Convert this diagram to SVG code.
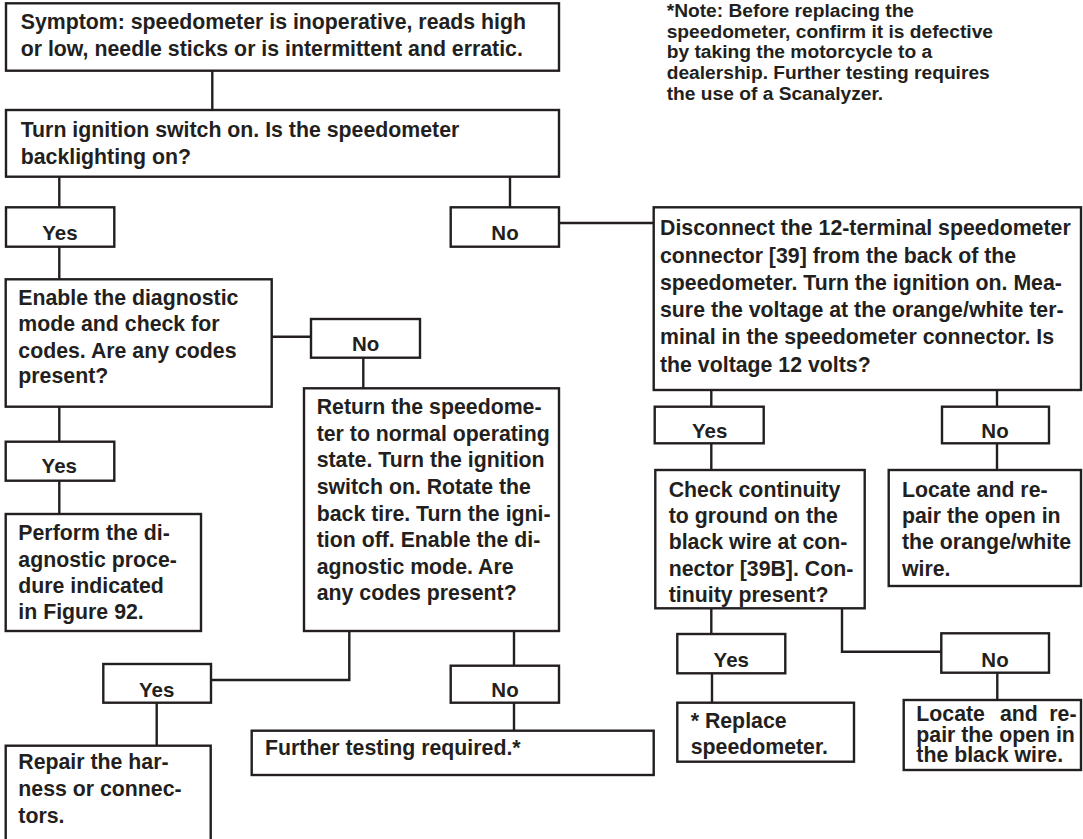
<svg xmlns="http://www.w3.org/2000/svg" width="1083" height="839" viewBox="0 0 1083 839">
<style>
.box{fill:#fff;stroke:#231f20;stroke-width:2.4}
.conn{fill:none;stroke:#231f20;stroke-width:2.4}
.t{font-family:"Liberation Sans",Arial,Helvetica,sans-serif;font-weight:bold;font-size:21.3px;fill:#231f20}
.lbl{font-family:"Liberation Sans",Arial,Helvetica,sans-serif;font-weight:bold;font-size:20.5px;fill:#231f20;text-anchor:middle}
.note{font-family:"Liberation Sans",Arial,Helvetica,sans-serif;font-weight:bold;font-size:19.2px;fill:#231f20}
</style>
<rect x="0" y="0" width="1083" height="839" fill="#fff"/>
<g id="connectors">
<path class="conn" d="M212.3,70.7V110"/>
<path class="conn" d="M59.3,176.7V207.3"/>
<path class="conn" d="M510,176.7V207.3"/>
<path class="conn" d="M559,223H653.7"/>
<path class="conn" d="M59.3,246.7V279.3"/>
<path class="conn" d="M271.7,336.7H311"/>
<path class="conn" d="M363.3,357.7V388.3"/>
<path class="conn" d="M59.3,406.7V441.7"/>
<path class="conn" d="M59.3,480.7V514"/>
<path class="conn" d="M349.3,631V680H211"/>
<path class="conn" d="M156.7,702.7V745.7"/>
<path class="conn" d="M514,631V665.7"/>
<path class="conn" d="M514,702.7V730.7"/>
<path class="conn" d="M711.3,390V406.7"/>
<path class="conn" d="M997,390V406.7"/>
<path class="conn" d="M711.3,443.3V470"/>
<path class="conn" d="M997,443.3V470"/>
<path class="conn" d="M711.3,608.3V634"/>
<path class="conn" d="M842,608.3V651.7H941.3"/>
<path class="conn" d="M712,673.3V702.7"/>
<path class="conn" d="M997.3,672.7V700"/>
</g>
<g id="symptom">
<rect class="box" x="6" y="3.3" width="553" height="67.4"/>
<text class="t" x="20.7" y="29">Symptom: speedometer is inoperative, reads high</text>
<text class="t" x="20.7" y="56">or low, needle sticks or is intermittent and erratic.</text>
</g>
<g id="note">
<text class="note" x="666.7" y="16.7">*Note: Before replacing the</text>
<text class="note" x="666.7" y="37.7">speedometer, confirm it is defective</text>
<text class="note" x="666.7" y="58.3">by taking the motorcycle to a</text>
<text class="note" x="666.7" y="79.3">dealership. Further testing requires</text>
<text class="note" x="666.7" y="100">the use of a Scanalyzer.</text>
</g>
<g id="ignition">
<rect class="box" x="6" y="110" width="553" height="66.7"/>
<text class="t" x="20.7" y="137">Turn ignition switch on. Is the speedometer</text>
<text class="t" x="20.7" y="164">backlighting on?</text>
</g>
<g id="yes1">
<rect class="box" x="6" y="207.3" width="108.3" height="39.4"/>
<text class="lbl" x="60" y="240">Yes</text>
</g>
<g id="no1">
<rect class="box" x="450.7" y="207.3" width="108.3" height="39.4"/>
<text class="lbl" x="505" y="240">No</text>
</g>
<g id="disconnect">
<rect class="box" x="653.7" y="207.3" width="427.3" height="182.7"/>
<text class="t" x="660" y="235">Disconnect the 12-terminal speedometer</text>
<text class="t" x="660" y="262.7">connector [39] from the back of the</text>
<text class="t" x="660" y="290">speedometer. Turn the ignition on. Mea-</text>
<text class="t" x="660" y="316.7">sure the voltage at the orange/white ter-</text>
<text class="t" x="660" y="344">minal in the speedometer connector. Is</text>
<text class="t" x="660" y="371.7">the voltage 12 volts?</text>
</g>
<g id="enable">
<rect class="box" x="5.7" y="279.3" width="266" height="127.4"/>
<text class="t" x="18.3" y="305">Enable the diagnostic</text>
<text class="t" x="18.3" y="331">mode and check for</text>
<text class="t" x="18.3" y="357.7">codes. Are any codes</text>
<text class="t" x="18.3" y="383.3">present?</text>
</g>
<g id="no2">
<rect class="box" x="311" y="319" width="109" height="38.7"/>
<text class="lbl" x="365.7" y="350.7">No</text>
</g>
<g id="return">
<rect class="box" x="304" y="388.3" width="255" height="242.7"/>
<text class="t" x="316.7" y="414">Return the speedome-</text>
<text class="t" x="316.7" y="440.7">ter to normal operating</text>
<text class="t" x="316.7" y="467.3">state. Turn the ignition</text>
<text class="t" x="316.7" y="494">switch on. Rotate the</text>
<text class="t" x="316.7" y="520.7">back tire. Turn the igni-</text>
<text class="t" x="316.7" y="547.3">tion off. Enable the di-</text>
<text class="t" x="316.7" y="574">agnostic mode. Are</text>
<text class="t" x="316.7" y="600">any codes present?</text>
</g>
<g id="yes3">
<rect class="box" x="5.7" y="441.7" width="108.6" height="39"/>
<text class="lbl" x="59.3" y="473.3">Yes</text>
</g>
<g id="perform">
<rect class="box" x="5.7" y="514" width="195.3" height="117"/>
<text class="t" x="18.3" y="540">Perform the di-</text>
<text class="t" x="18.3" y="566.7">agnostic proce-</text>
<text class="t" x="18.3" y="593.3">dure indicated</text>
<text class="t" x="18.3" y="619.3">in Figure 92.</text>
</g>
<g id="yes4">
<rect class="box" x="103.3" y="664" width="107.7" height="38.7"/>
<text class="lbl" x="156.7" y="696.7">Yes</text>
</g>
<g id="repair">
<rect class="box" x="5.7" y="745.7" width="205" height="110"/>
<text class="t" x="18.3" y="769.3">Repair the har-</text>
<text class="t" x="18.3" y="796">ness or connec-</text>
<text class="t" x="18.3" y="822.7">tors.</text>
</g>
<g id="no3">
<rect class="box" x="450.7" y="665.7" width="108.3" height="37"/>
<text class="lbl" x="505" y="696.7">No</text>
</g>
<g id="further">
<rect class="box" x="251.7" y="730.7" width="402" height="44.3"/>
<text class="t" x="265" y="755">Further testing required.*</text>
</g>
<g id="yes5">
<rect class="box" x="654.7" y="406.7" width="109" height="36.6"/>
<text class="lbl" x="709.7" y="438.3">Yes</text>
</g>
<g id="no5">
<rect class="box" x="942" y="406.7" width="107" height="36.6"/>
<text class="lbl" x="995" y="438.3">No</text>
</g>
<g id="check">
<rect class="box" x="655.3" y="470" width="209.4" height="138.3"/>
<text class="t" x="668.7" y="496.7">Check continuity</text>
<text class="t" x="668.7" y="522.7">to ground on the</text>
<text class="t" x="668.7" y="549.3">black wire at con-</text>
<text class="t" x="668.7" y="576">nector [39B]. Con-</text>
<text class="t" x="668.7" y="601.7">tinuity present?</text>
</g>
<g id="locate1">
<rect class="box" x="888.7" y="470" width="192.3" height="116"/>
<text class="t" x="902" y="496.7">Locate and re-</text>
<text class="t" x="902" y="522.7">pair the open in</text>
<text class="t" x="902" y="549.3">the orange/white</text>
<text class="t" x="902" y="576">wire.</text>
</g>
<g id="yes6">
<rect class="box" x="677.3" y="634" width="108" height="39.3"/>
<text class="lbl" x="731.3" y="666.7">Yes</text>
</g>
<g id="no6">
<rect class="box" x="941.3" y="633.3" width="107.7" height="39.4"/>
<text class="lbl" x="995" y="666.7">No</text>
</g>
<g id="replace">
<rect class="box" x="677.3" y="702.7" width="176.7" height="59"/>
<text class="t" x="690.7" y="728.3">* Replace</text>
<text class="t" x="690.7" y="754">speedometer.</text>
</g>
<g id="locate2">
<rect class="box" x="903.7" y="700" width="177.3" height="70"/>
<text class="t" x="916.3" y="721">Locate</text>
<text class="t" x="1000" y="721">and</text>
<text class="t" x="1076.5" y="721" text-anchor="end">re-</text>
<text class="t" x="916.3" y="741.7">pair the open in</text>
<text class="t" x="916.3" y="761.7">the black wire.</text>
</g>
</svg>
